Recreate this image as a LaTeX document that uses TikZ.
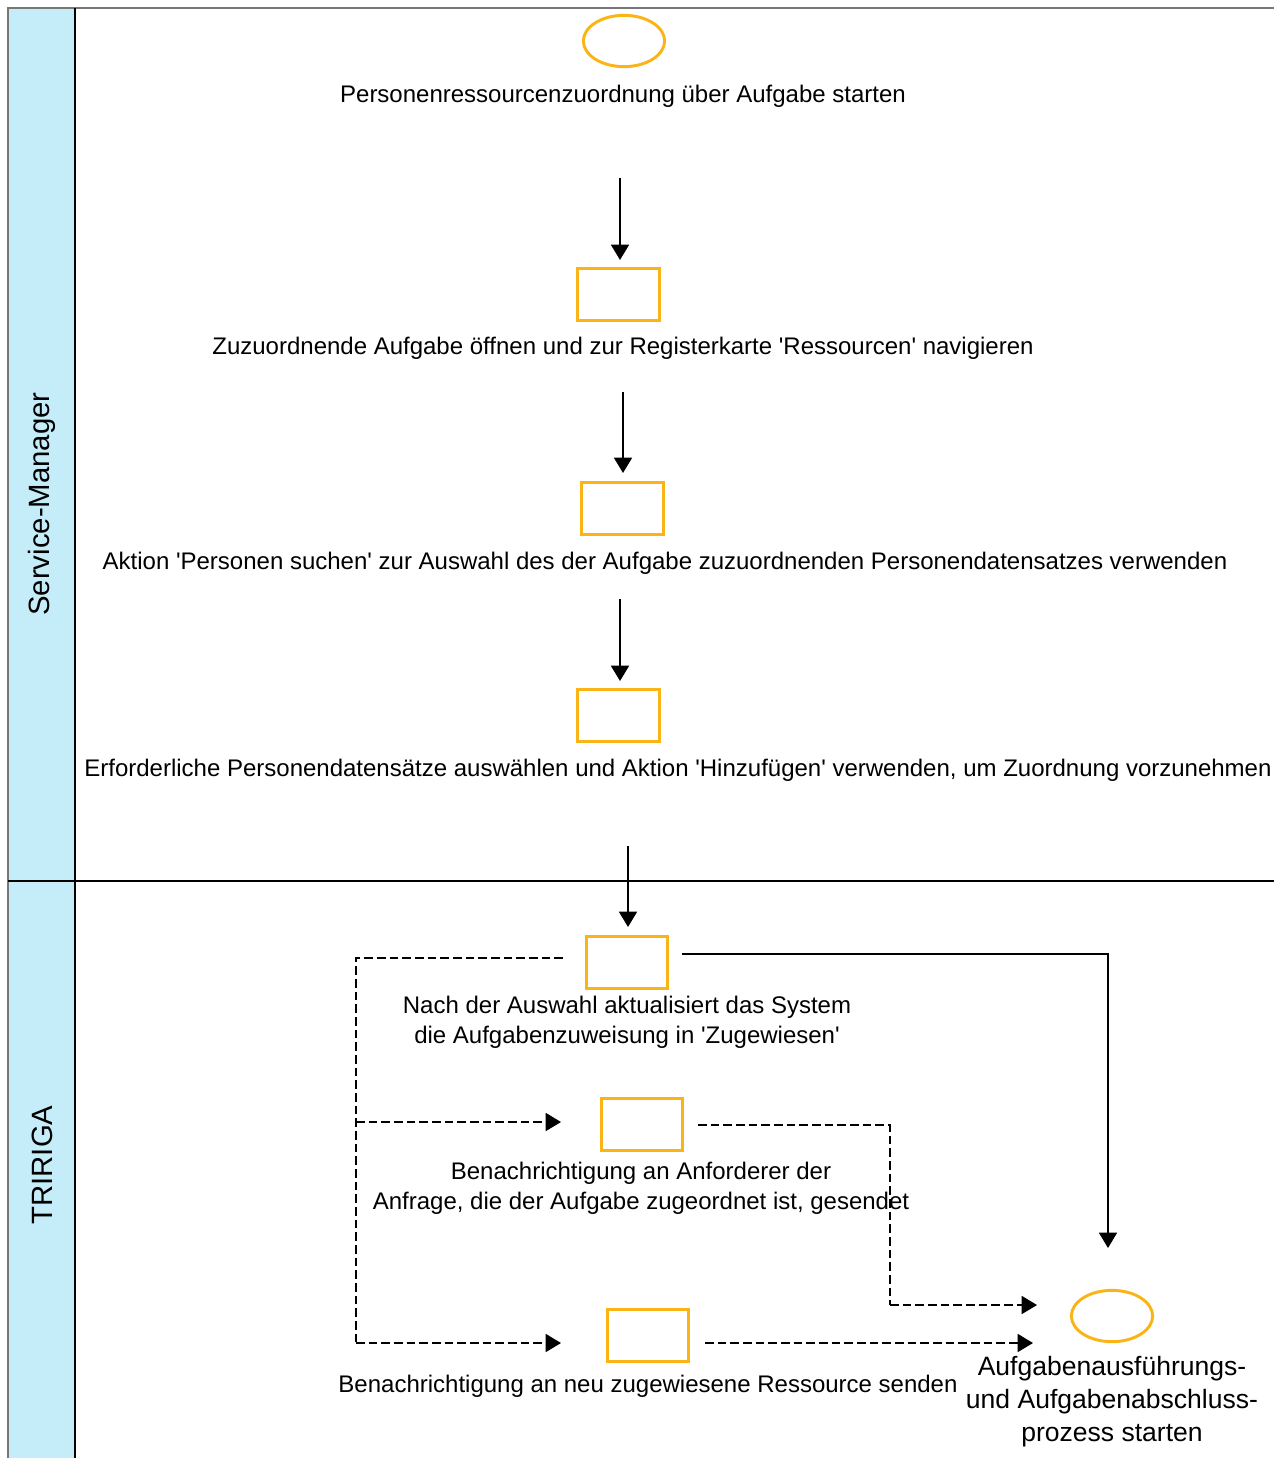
\documentclass[tikz,border=0pt]{standalone}
\usepackage{fontspec}
\setmainfont{Liberation Sans}
\usetikzlibrary{arrows.meta,calc,shapes.geometric}
\definecolor{laneblue}{HTML}{C5ECF9}
\definecolor{taskorange}{HTML}{FBB416}
\definecolor{bordergray}{HTML}{777777}
\newcommand{\sq}{\textquotesingle}
\tikzset{
  task/.style={draw=taskorange, line width=2.2pt, minimum width=61pt, minimum height=39.5pt, inner sep=0pt},
  event/.style={draw=taskorange, line width=2.2pt, ellipse, minimum width=61pt, minimum height=38.5pt, inner sep=0pt},
  label/.style={font=\fontsize{18}{22.5}\selectfont, align=center, inner sep=0pt, text depth=0pt},
  lanelabel/.style={font=\fontsize{22}{26}\selectfont, rotate=90, inner sep=0pt},
  flow/.style={line width=1.3pt, -{Triangle[length=11.5pt, width=13.5pt]}},
  msg/.style={line width=1.3pt, dash pattern=on 6.5pt off 3pt, -{Triangle[length=11.5pt, width=13.5pt]}},
  msgline/.style={line width=1.3pt, dash pattern=on 6.5pt off 3pt},
}
\begin{document}
\begin{tikzpicture}[x=0.75pt, y=-0.75pt]
\useasboundingbox (0,0) rectangle (1274,1458);
% pool frame and lane header band
\fill[laneblue] (8,8) rectangle (75,1458);
\draw[bordergray, line width=1.4pt] (8,1458) -- (8,8) -- (1274,8);
\draw[black, line width=1pt] (75,8) -- (75,1458);
\draw[black, line width=1.2pt] (8,881) -- (1274,881);
\node[lanelabel] (lane1) at (42,504) {Service-Manager};
\node[lanelabel] (lane2) at (42,1165) {TRIRIGA};

% Service-Manager lane
\node[event] (start) at (624,41) {};
\node[label] (tstart) at (623,94) {Personenressourcenzuordnung über Aufgabe starten};
\node[task] (b1) at (618.5,294.5) {};
\node[label] (t1) at (623,346) {Zuzuordnende Aufgabe öffnen und zur Registerkarte \sq Ressourcen\sq{} navigieren};
\node[task] (b2) at (622.5,508.5) {};
\node[label] (t2) at (665,561) {Aktion \sq Personen suchen\sq{} zur Auswahl des der Aufgabe zuzuordnenden Personendatensatzes verwenden};
\node[task] (b3) at (618.5,715.5) {};
\node[label] (t3) at (678,768) {Erforderliche Personendatensätze auswählen und Aktion \sq Hinzufügen\sq{} verwenden, um Zuordnung vorzunehmen};

% TRIRIGA lane
\node[task] (b4) at (627,962.5) {};
\node[label] (t4) at (627,1020) {Nach der Auswahl aktualisiert das System\\die Aufgabenzuweisung in \sq Zugewiesen\sq};
\node[task] (b5) at (642,1124.5) {};
\node[label] (t5) at (641,1186) {Benachrichtigung an Anforderer der\\Anfrage, die der Aufgabe zugeordnet ist, gesendet};
\node[task] (b6) at (648,1335.5) {};
\node[label] (t6) at (648,1384) {Benachrichtigung an neu zugewiesene Ressource senden};
\node[event] (end) at (1112,1316) {};
\node[label, font=\fontsize{19.9}{25}\selectfont] (tend) at (1112,1399) {Aufgabenausführungs-\\und Aufgabenabschluss-\\prozess starten};

% sequence flows
\coordinate (f1) at (620,178);
\draw[flow] (f1) -- (620,260);
\coordinate (f2) at (623,392);
\draw[flow] (f2) -- (623,473);
\coordinate (f3) at (620,599);
\draw[flow] (f3) -- (620,681);
\coordinate (f4) at (628,846);
\draw[flow] (f4) -- (628,927);
\coordinate (f5) at (682,954);
\coordinate (f5e) at (1108,1248);
\draw[flow] (f5) -| (f5e);

% dashed message flows
\coordinate (m1) at (563,958);
\coordinate (m1c) at (356,958);
\coordinate (m1b) at (356,1343);
\coordinate (m1e) at (561,1343);
\coordinate (m2s) at (356,1122);
\coordinate (m2e) at (561,1122);
\draw[msgline] (m1) -- (m1c) -- (m1b);
\draw[msg] (m1b) -- (m1e);
\draw[msg] (m2s) -- (m2e);
\coordinate (m3) at (698,1125);
\coordinate (m3c) at (890,1125);
\coordinate (m3b) at (890,1305);
\coordinate (m3e) at (1037,1305);
\draw[msgline] (m3) -- (m3c) -- (m3b);
\draw[msg] (m3b) -- (m3e);
\coordinate (m4) at (705,1343);
\coordinate (m4e) at (1033,1343);
\draw[msg] (m4) -- (m4e);
\end{tikzpicture}
\end{document}
